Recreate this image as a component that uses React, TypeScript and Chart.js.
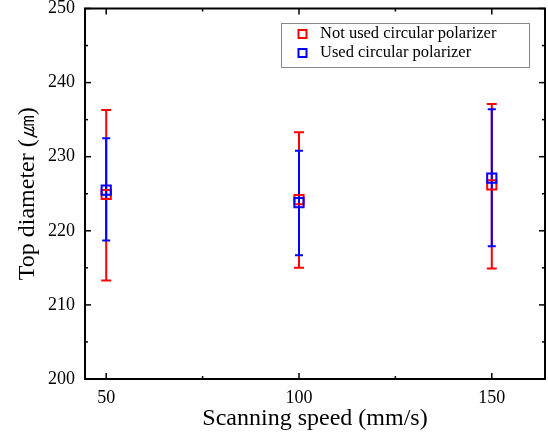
import React, { useEffect, useRef } from "react";
import { Chart, registerables } from "chart.js";

Chart.register(...registerables);

const speeds = [50, 100, 150];
const notUsedMean = [224.9, 224.2, 226.2];
const notUsedHigh = [236.3, 233.3, 237.1];
const notUsedLow = [213.3, 215.0, 214.9];
const usedMean = [225.5, 223.8, 227.1];
const usedHigh = [232.5, 230.8, 236.4];
const usedLow = [218.7, 216.7, 217.9];
const seriesNames = ["Not used circular polarizer", "Used circular polarizer"];
const seriesColors = ["#ff0000", "#0000ff"];
const xMajor = [50, 100, 150];
const xMinor = [75, 125];
const yMajor = [200, 210, 220, 230, 240, 250];
const yMinor = [205, 215, 225, 235, 245];

const FONT = "'Liberation Serif', 'Times New Roman', serif";
const PLOT_RIGHT = 545;

const errorBars = [
  { low: notUsedLow, high: notUsedHigh, color: seriesColors[0], cap: 5 },
  { low: usedLow, high: usedHigh, color: seriesColors[1], cap: 4 },
];

const customPlugin = {
  id: "custom",
  afterLayout(chart: any) {
    const ca = chart.chartArea;
    ca.right = PLOT_RIGHT;
    ca.width = PLOT_RIGHT - ca.left;
    const x = chart.scales.x;
    x.right = PLOT_RIGHT;
    x.width = PLOT_RIGHT - x.left;
    x.configure();
  },
  beforeDatasetsDraw(chart: any) {
    const { ctx, scales } = chart;
    const x = scales.x, y = scales.y;
    ctx.save();
    ctx.lineWidth = 2;
    errorBars.forEach((eb) => {
      ctx.strokeStyle = eb.color;
      speeds.forEach((s, i) => {
        const px = x.getPixelForValue(s);
        const yt = y.getPixelForValue(eb.high[i]);
        const yb = y.getPixelForValue(eb.low[i]);
        ctx.beginPath();
        ctx.moveTo(px, yt);
        ctx.lineTo(px, yb);
        ctx.moveTo(px - eb.cap, yt);
        ctx.lineTo(px + eb.cap, yt);
        ctx.moveTo(px - eb.cap, yb);
        ctx.lineTo(px + eb.cap, yb);
        ctx.stroke();
      });
    });
    ctx.restore();
  },
  afterDraw(chart: any) {
    const { ctx, chartArea, scales } = chart;
    const { left, right, top, bottom } = chartArea;
    const x = scales.x, y = scales.y;
    ctx.save();
    ctx.strokeStyle = "#000";
    ctx.lineWidth = 1.5;
    const line = (a: number, b: number, c: number, d: number) => {
      ctx.beginPath();
      ctx.moveTo(a, b);
      ctx.lineTo(c, d);
      ctx.stroke();
    };
    xMajor.forEach((v) => {
      const p = x.getPixelForValue(v);
      line(p, bottom, p, bottom - 6);
      line(p, top, p, top + 6);
    });
    xMinor.forEach((v) => {
      const p = x.getPixelForValue(v);
      line(p, bottom, p, bottom - 3);
      line(p, top, p, top + 3);
    });
    yMajor.forEach((v) => {
      const p = y.getPixelForValue(v);
      line(left, p, left + 6, p);
      line(right, p, right - 6, p);
    });
    yMinor.forEach((v) => {
      const p = y.getPixelForValue(v);
      line(left, p, left + 3, p);
      line(right, p, right - 3, p);
    });
    ctx.lineWidth = 2;
    ctx.strokeRect(left, top, right - left, bottom - top);

    // legend
    ctx.lineWidth = 1;
    ctx.strokeStyle = "#888";
    ctx.strokeRect(281.5, 23.5, 248, 44);
    ctx.font = `16.5px ${FONT}`;
    ctx.textBaseline = "middle";
    ctx.textAlign = "left";
    seriesNames.forEach((name, i) => {
      const cy = 34 + i * 19;
      ctx.strokeStyle = seriesColors[i];
      ctx.lineWidth = 2;
      ctx.strokeRect(298.5, cy - 4, 8, 8);
      ctx.fillStyle = "#000";
      ctx.fillText(name, 320, cy);
    });
    ctx.restore();
  },
};

const zeroPad = (s: any) => {
  s.paddingTop = 0;
  s.paddingBottom = 0;
  s.paddingLeft = 0;
  s.paddingRight = 0;
};

export default function App() {
  const ref = useRef<HTMLCanvasElement>(null);
  useEffect(() => {
    if (!ref.current) return;
    const chart = new Chart(ref.current, {
      type: "scatter",
      data: {
        datasets: [
          {
            label: seriesNames[0],
            data: speeds.map((s, i) => ({ x: s, y: notUsedMean[i] })),
            borderColor: seriesColors[0],
            backgroundColor: "rgba(0,0,0,0)",
            pointStyle: "rect",
            pointRadius: 6.5,
            pointBorderWidth: 2,
            order: 2,
          },
          {
            label: seriesNames[1],
            data: speeds.map((s, i) => ({ x: s, y: usedMean[i] })),
            borderColor: seriesColors[1],
            backgroundColor: "rgba(0,0,0,0)",
            pointStyle: "rect",
            pointRadius: 6.5,
            pointBorderWidth: 2,
            order: 1,
          },
        ],
      },
      options: {
        animation: false,
        responsive: false,
        devicePixelRatio: 1,
        layout: { padding: { left: 0, right: 3, top: 8.5, bottom: 0 } },
        plugins: { legend: { display: false }, tooltip: { enabled: false } },
        scales: {
          x: {
            type: "linear",
            min: 44.5,
            max: 163.8,
            afterFit: (s: any) => { s.height = 67; zeroPad(s); },
            afterBuildTicks: (s: any) => { s.ticks = xMajor.map((v) => ({ value: v })); },
            grid: { display: false, drawTicks: false, tickLength: 0 },
            border: { display: false },
            ticks: { color: "#000", font: { family: FONT, size: 18 }, padding: 8 },
            title: {
              display: true,
              text: "Scanning speed (mm/s)",
              color: "#000",
              font: { family: FONT, size: 24 },
              padding: { top: 0, bottom: 13 },
            },
          },
          y: {
            type: "linear",
            min: 200,
            max: 250,
            afterFit: (s: any) => { s.width = 85; zeroPad(s); },
            afterBuildTicks: (s: any) => { s.ticks = yMajor.map((v) => ({ value: v })); },
            grid: { display: false, drawTicks: false, tickLength: 0 },
            border: { display: false },
            ticks: { color: "#000", font: { family: FONT, size: 18 }, padding: 10 },
            title: {
              display: true,
              text: "Top diameter (㎛)",
              color: "#000",
              font: { family: FONT, size: 24 },
              padding: { top: 13.4, bottom: 0 },
            },
          },
        },
      },
      plugins: [customPlugin],
    } as any);
    return () => chart.destroy();
  }, []);
  return (
    <div style={{ position: "fixed", left: 0, top: 0, width: 548, height: 446, background: "#fff" }}>
      <canvas ref={ref} width={548} height={446} style={{ display: "block" }} />
    </div>
  );
}
